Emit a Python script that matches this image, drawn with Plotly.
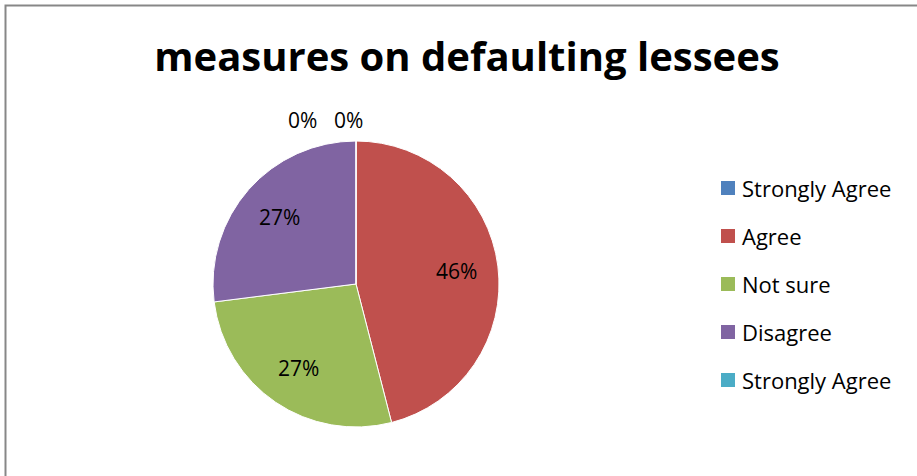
import math
import plotly.graph_objects as go

# Survey responses on measures taken against defaulting lessees (percent)
labels = ["Strongly Agree", "Agree", "Not sure", "Disagree", "Strongly Agree "]
values = [0, 46, 27, 27, 0]
colors = ["#4F81BD", "#C0504D", "#9BBB59", "#8064A2", "#4BACC6"]
title_text = "measures on defaulting lessees"

W, H = 917, 476
FONT = "Open Sans"

# pie placement in pixels
CX, CY, R = 356, 284, 143

fig = go.Figure()
fig.add_trace(go.Pie(
    labels=labels,
    values=values,
    sort=False,
    direction="clockwise",
    rotation=0,
    marker=dict(colors=colors, line=dict(color="white", width=1)),
    textinfo="none",
    domain=dict(x=[(CX - R) / W, (CX + R) / W], y=[1 - (CY + R) / H, 1 - (CY - R) / H]),
    showlegend=False,
    hoverinfo="label+percent",
))

annotations = []
total = sum(values)
cum = 0
zero_x = [302, 348]
zi = 0
for lab, v in zip(labels, values):
    pct = round(100 * v / total)
    if v == 0:
        # zero-valued slices sit at the top of the pie; their labels go above it
        x, y = zero_x[zi], 120
        zi += 1
    else:
        mid = (cum + v / 2) / total * 2 * math.pi
        x = CX + 0.71 * R * math.sin(mid)
        y = CY - 0.71 * R * math.cos(mid)
    cum += v
    annotations.append(dict(
        x=x / W, y=1 - y / H, xref="paper", yref="paper",
        xanchor="center", yanchor="middle",
        text=f"{pct}%", showarrow=False,
        font=dict(family=FONT, size=21, color="black"),
    ))

# legend entries
shapes = []
for i, (lab, col) in enumerate(zip(labels, colors)):
    yc = 188 + i * 48
    shapes.append(dict(type="rect", xref="paper", yref="paper",
                       x0=721 / W, x1=735 / W, y0=1 - (yc + 7) / H, y1=1 - (yc - 7) / H,
                       fillcolor=col, line=dict(width=0)))
    annotations.append(dict(
        x=740 / W, y=1 - yc / H, xref="paper", yref="paper",
        xanchor="left", yanchor="middle", text=lab.strip(), showarrow=False,
        font=dict(family=FONT, size=22, color="black"),
    ))

# chart frame
shapes.append(dict(type="rect", xref="paper", yref="paper",
                   x0=5.5 / W, x1=1.05, y0=-0.05, y1=1 - 5.5 / H,
                   line=dict(color="#878787", width=2), fillcolor="rgba(0,0,0,0)"))

fig.update_layout(
    width=W, height=H,
    margin=dict(l=0, r=0, t=0, b=0),
    paper_bgcolor="white",
    plot_bgcolor="white",
    title=dict(text=f"<b>{title_text}</b>", x=467 / W, y=1 - 57 / H,
               xanchor="center", yanchor="middle",
               font=dict(family=FONT, size=40, color="black")),
    annotations=annotations,
    shapes=shapes,
)

fig.write_html("out.html")
